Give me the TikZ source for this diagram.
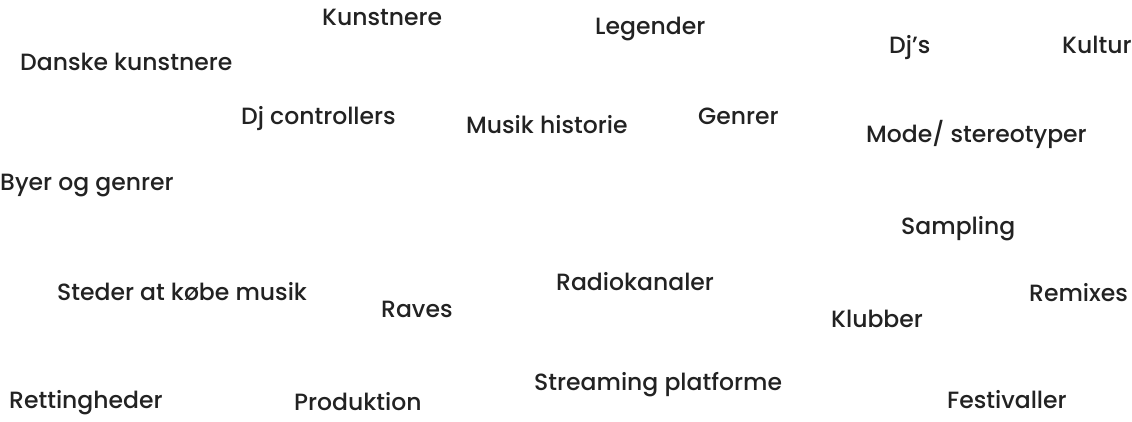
\documentclass[tikz,border=0pt]{standalone}
\usepackage{fontspec}
\setmainfont{Poppins Medium}
\definecolor{ink}{HTML}{222222}
\begin{document}
\begin{tikzpicture}
  [x=1pt,y=-1pt,every node/.style={anchor=mid west,inner sep=0pt,text=ink,font=\fontsize{23.5}{26}\selectfont}]

  \useasboundingbox[fill=white] (0,0) rectangle (1132,421);

  \node (kunstnere) at (322,23) {Kunstnere};
  \node (legender) at (595,32) {Legender};
  \node (djs) at (889,51) {Dj’s};
  \node (kultur) at (1062,51) {Kultur};
  \node (danske) at (20,68) {Danske kunstnere};
  \node (dj) at (241,122) {Dj controllers};
  \node (historie) at (466,131) {Musik historie};
  \node (genrer) at (698,122) {Genrer};
  \node (mode) at (866,140) {Mode/ stereotyper};
  \node (byer) at (0,188) {Byer og genrer};
  \node (sampling) at (901,232) {Sampling};
  \node (radio) at (556,288) {Radiokanaler};
  \node (remixes) at (1029,299) {Remixes};
  \node (steder) at (57,298) {Steder at købe musik};
  \node (raves) at (381,315) {Raves};
  \node (klubber) at (831,325) {Klubber};
  \node (streaming) at (534,388) {Streaming platforme};
  \node (rett) at (9,406) {Rettingheder};
  \node (prod) at (294,408) {Produktion};
  \node (fest) at (947,406) {Festivaller};

\end{tikzpicture}
\end{document}
